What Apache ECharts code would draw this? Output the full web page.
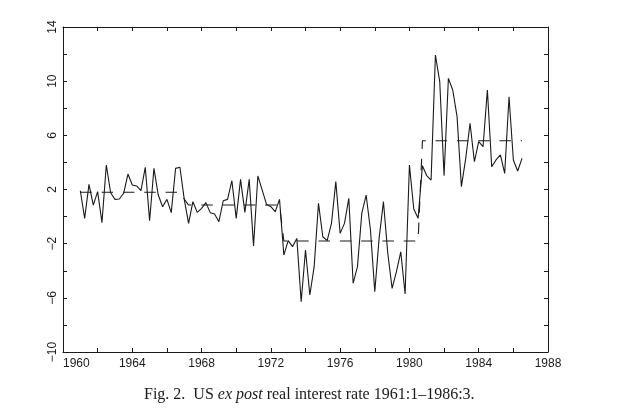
<!DOCTYPE html>
<html>
<head>
<meta charset="utf-8">
<script src="https://cdn.jsdelivr.net/npm/echarts@6/dist/echarts.min.js"></script>
<style>
  html, body { margin: 0; padding: 0; background: #fff; }
  #chart { width: 630px; height: 413px; }
</style>
</head>
<body>
<div id="chart"></div>
<script>
// quarterly, 1961:1 - 1986:3
const startYear = 1961
const rate = [
  1.91, -0.13, 2.38, 0.85, 1.84, -0.45, 3.81, 1.76,
  1.27, 1.30, 1.72, 3.14, 2.33, 2.26, 1.91, 3.64,
  -0.30, 3.56, 1.59, 0.73, 1.27, 0.29, 3.56, 3.64,
  1.27, -0.50, 1.10, 0.31, 0.61, 1.03, 0.29, 0.19,
  -0.38, 1.17, 1.27, 2.65, -0.13, 2.75, 0.31, 2.75,
  -2.17, 3.00, 1.96, 0.90, 0.73, 0.36, 1.27, -2.84,
  -1.78, -2.22, -1.61, -6.29, -2.47, -5.79, -3.70, 0.98,
  -1.49, -1.78, -0.50, 2.58, -1.24, -0.50, 1.35, -4.93,
  -3.70, 0.24, 1.59, -0.99, -5.55, -1.61, 1.10, -2.71,
  -5.30, -4.07, -2.60, -5.72, 3.81, 0.56, -0.13, 3.76,
  3.02, 2.70, 11.93, 9.96, 3.02, 10.21, 9.35, 7.38,
  2.21, 4.30, 6.89, 4.05, 5.53, 5.16, 9.35, 3.68,
  4.18, 4.55, 3.19, 8.85, 4.18, 3.37, 4.30
]
// regime means (dashed)
const regimeMean = [
  1.8, 1.8, 1.8, 1.8, 1.8, 1.8, 1.8, 1.8,
  1.8, 1.8, 1.8, 1.8, 1.8, 1.8, 1.8, 1.8,
  1.8, 1.8, 1.8, 1.8, 1.8, 1.8, 1.8, 1.8,
  1.3, 0.85, 0.85, 0.85, 0.85, 0.85, 0.85, 0.85,
  0.85, 0.85, 0.85, 0.85, 0.85, 0.85, 0.85, 0.85,
  0.85, 0.85, 0.85, 0.85, 0.85, 0.85, 0.85, -1.8,
  -1.8, -1.8, -1.8, -1.8, -1.8, -1.8, -1.8, -1.8,
  -1.8, -1.8, -1.8, -1.8, -1.8, -1.8, -1.8, -1.8,
  -1.8, -1.8, -1.8, -1.8, -1.8, -1.8, -1.8, -1.8,
  -1.8, -1.8, -1.8, -1.8, -1.8, -1.8, -1.8, 5.6,
  5.6, 5.6, 5.6, 5.6, 5.6, 5.6, 5.6, 5.6,
  5.6, 5.6, 5.6, 5.6, 5.6, 5.6, 5.6, 5.6,
  5.6, 5.6, 5.6, 5.6, 5.6, 5.6, 5.6
]
const yearTicks = [1960, 1964, 1968, 1972, 1976, 1980, 1984, 1988]
const rateTicks = [-10, -6, -2, 2, 6, 10, 14]

const toXY = (arr) => arr.map((v, i) => [startYear + i / 4, v])

const ink = '#1a1a1a'
const sans = 'Liberation Sans'
const serif = 'Liberation Serif'

function xAxisOpt(pos, showLabel) {
  return {
    type: 'value',
    position: pos,
    min: 1960,
    max: 1988,
    interval: 2,
    axisLine: { show: true, onZero: false, lineStyle: { color: ink, width: 1 } },
    axisTick: { show: true, inside: true, length: 4, lineStyle: { color: ink } },
    splitLine: { show: false },
    axisLabel: {
      show: showLabel,
      margin: 6,
      color: ink,
      fontFamily: sans,
      fontSize: 12,
      alignMinLabel: 'left',
      formatter: (v) => (yearTicks.includes(v) ? String(v) : '')
    }
  }
}

function yAxisOpt(pos, showLabel) {
  return {
    type: 'value',
    position: pos,
    min: -10,
    max: 14,
    interval: 2,
    axisLine: { show: true, onZero: false, lineStyle: { color: ink, width: 1 } },
    axisTick: { show: true, inside: true, length: 4, lineStyle: { color: ink } },
    splitLine: { show: false },
    axisLabel: {
      show: showLabel,
      rotate: 90,
      margin: 4,
      color: ink,
      fontFamily: sans,
      fontSize: 12,
      formatter: (v) => (rateTicks.includes(v) ? String(v).replace('-', '\u2212') : '')
    }
  }
}

const chart = echarts.init(document.getElementById('chart'), null, { renderer: 'canvas' })

chart.setOption({
  animation: false,
  backgroundColor: '#fff',
  grid: { left: 63, right: 82, top: 27, bottom: 61, containLabel: false },
  title: {
    left: 139,
    top: 382,
    text: '{a|Fig. 2.  US }{b|ex post}{a| real interest rate 1961:1\u20131986:3.}',
    textStyle: {
      fontWeight: 'normal',
      rich: {
        a: { fontFamily: serif, fontSize: 16, fontWeight: 'normal', color: ink },
        b: { fontFamily: serif, fontSize: 16, fontWeight: 'normal', fontStyle: 'italic', color: ink }
      }
    }
  },
  xAxis: [xAxisOpt('bottom', true), xAxisOpt('top', false)],
  yAxis: [yAxisOpt('left', true), yAxisOpt('right', false)],
  series: [
    {
      type: 'line',
      data: toXY(rate),
      symbol: 'none',
      lineStyle: { color: ink, width: 1.1 },
      z: 3
    },
    {
      type: 'line',
      data: toXY(regimeMean),
      symbol: 'none',
      lineStyle: { color: ink, width: 1.1, type: [11.5, 9.8] },
      z: 2
    }
  ]
})
</script>
</body>
</html>
